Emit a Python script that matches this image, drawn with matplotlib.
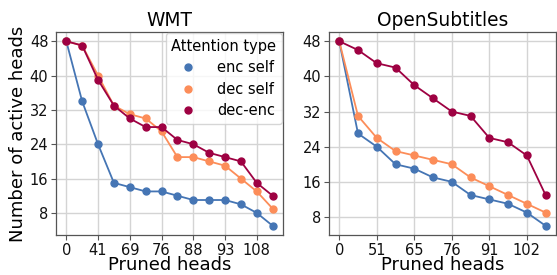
import matplotlib
matplotlib.use("Agg")
from matplotlib import pyplot as plt
from matplotlib.lines import Line2D

# WMT: pruned heads tick labels (every other step), 14 steps
wmt_ticks = ["0", "41", "69", "76", "88", "93", "108"]
wmt_enc_self = [48, 34, 24, 15, 14, 13, 13, 12, 11, 11, 11, 10, 8, 5]
wmt_dec_self = [48, 47, 40, 33, 31, 30, 27, 21, 21, 20, 19, 16, 13, 9]
wmt_dec_enc = [48, 47, 39, 33, 30, 28, 28, 25, 24, 22, 21, 20, 15, 12]

# OpenSubtitles: 12 steps
os_ticks = ["0", "51", "65", "76", "91", "102"]
os_enc_self = [48, 27, 24, 20, 19, 17, 16, 13, 12, 11, 9, 6]
os_dec_self = [48, 31, 26, 23, 22, 21, 20, 17, 15, 13, 11, 9]
os_dec_enc = [48, 46, 43, 42, 38, 35, 32, 31, 26, 25, 22, 13]

labels = ["enc self", "dec self", "dec-enc"]
colors = ["#4575b4", "#fc8d59", "#9e0142"]

fig, axes = plt.subplots(1, 2, figsize=(5.57, 2.75), dpi=100)
plt.subplots_adjust(left=0.1005, right=0.998, bottom=0.1455, top=0.8836, wspace=0.2026)

panels = [
    (axes[0], "WMT", wmt_ticks, [wmt_enc_self, wmt_dec_self, wmt_dec_enc]),
    (axes[1], "OpenSubtitles", os_ticks, [os_enc_self, os_dec_self, os_dec_enc]),
]

for ax, title, ticks, series in panels:
    xs = list(range(len(series[0])))
    for ys, lab, c in zip(series, labels, colors):
        ax.plot(xs, ys, "-o", color=c, label=lab, lw=1.3, ms=5)
    ax.set_xticks(xs[::2])
    ax.set_xticklabels(ticks)
    ax.set_yticks([8, 16, 24, 32, 40, 48])
    ax.grid(True, color="#d4d4d4", lw=1.0)
    ax.set_axisbelow(True)
    for sp in ax.spines.values():
        sp.set_color("#555555")
        sp.set_linewidth(0.9)
    ax.tick_params(labelsize=10.5, length=3.5, width=0.8, color="#555555",
                   pad=2, labelcolor="#111111")
    ax.set_title(title, fontsize=13.4, pad=4)
    ax.set_xlabel("Pruned heads", fontsize=13, labelpad=-1)

axes[0].set_ylabel("Number of active heads", fontsize=13, labelpad=2)

handles = [Line2D([], [], ls="none", marker="o", color=c, ms=5) for c in colors]
axes[0].legend(handles, labels, title="Attention type", loc="upper right",
               fontsize=10.5, title_fontsize=10.5, borderaxespad=0.05,
               handletextpad=1.0, labelspacing=0.45)

plt.savefig("out.png", dpi=100)
